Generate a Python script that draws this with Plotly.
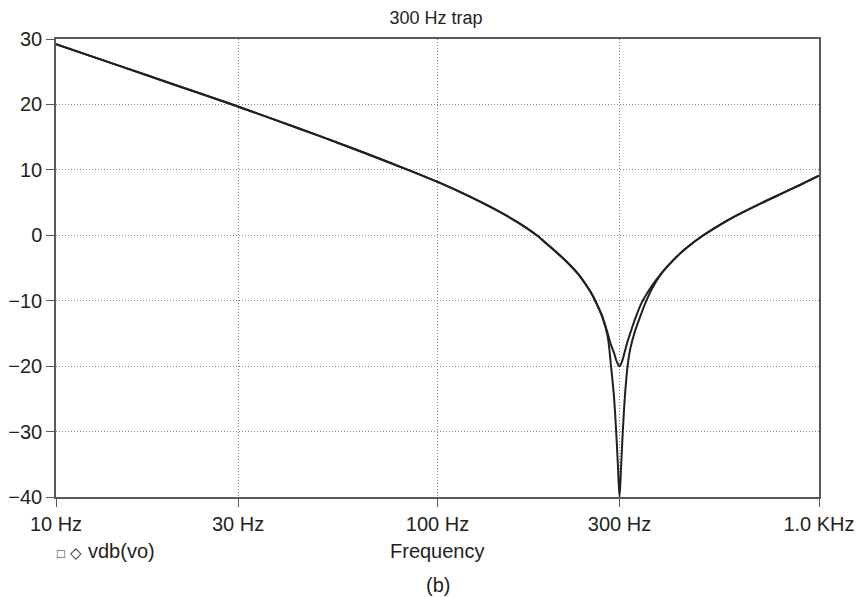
import plotly.graph_objects as go

# Frequency axis ticks
tick_vals = [10, 30, 100, 300, 1000]
tick_text = ["10 Hz", "30 Hz", "100 Hz", "300 Hz", "1.0 KHz"]

# Deep notch trace
freq_deep = [10, 15, 20, 28.6, 37.7, 50, 65, 83.7, 101.5, 121.6, 140, 160, 182,
             195, 209.5, 222, 233.6, 246.5, 255, 262, 270, 279, 285, 290, 294,
             297, 300, 303, 306, 310, 315, 320, 330, 340, 351, 367, 385, 400,
             432, 450, 497.5, 550, 600, 700, 800, 900, 1000]
vdb_deep = [29.2, 25.7, 23.2, 20.1, 17.6, 15.0, 12.5, 10.0, 8.0, 5.9, 4.1, 2.2, 0.0,
            -1.5, -3.1, -4.5, -5.9, -7.8, -9.2, -10.6, -12.4, -15.3, -20.0, -24.5, -30.0,
            -35.0, -40.0, -35.0, -30.0, -24.5, -20.0, -17.4, -14.5, -12.4, -10.3, -7.9, -6.0, -4.8,
            -2.8, -1.9, 0.0, 1.6, 2.85, 4.8, 6.4, 7.8, 9.1]

# Shallow notch trace
freq_shallow = [10, 15, 20, 28.6, 37.7, 50, 65, 83.7, 101.5, 121.6, 140, 160, 182,
                195, 209.5, 222, 233.6, 246.5, 255, 262, 270, 279, 284, 290.7, 295,
                300, 304.5, 309, 315, 322, 330, 343, 355, 367, 385, 400,
                432, 450, 497.5, 550, 600, 700, 800, 900, 1000]
vdb_shallow = [29.2, 25.7, 23.2, 20.1, 17.6, 15.0, 12.5, 10.0, 8.0, 5.9, 4.1, 2.2, 0.0,
               -1.5, -3.1, -4.5, -5.9, -7.8, -9.2, -10.6, -12.3, -14.9, -16.5, -18.1, -19.3,
               -20.0, -19.3, -18.0, -16.2, -14.5, -12.7, -10.3, -8.8, -7.5, -5.9, -4.8,
               -2.8, -1.9, 0.0, 1.6, 2.85, 4.8, 6.4, 7.8, 9.1]

FONT = "Liberation Sans, Arial, sans-serif"
INK = "#231f20"
AXIS = "#5a5a5a"

fig = go.Figure()

# Deep notch
fig.add_trace(go.Scatter(x=freq_deep, y=vdb_deep, mode="lines",
                         line=dict(color=INK, width=2, shape="spline", smoothing=0.9),
                         name="vdb(vo)"))
# Shallow notch
fig.add_trace(go.Scatter(x=freq_shallow, y=vdb_shallow, mode="lines",
                         line=dict(color=INK, width=2, shape="spline", smoothing=0.9),
                         name="vdb(vo)"))

# page has an 8px body margin, so the figure is a bit smaller than the window
fig.update_layout(
    width=856, height=589,
    margin=dict(l=48, r=45, t=31, b=100),
    paper_bgcolor="white", plot_bgcolor="white",
    showlegend=False,
    font=dict(family=FONT, size=20, color=INK),
    title=dict(text="300 Hz trap", x=0.5, xanchor="center",
               y=1, yanchor="top", pad=dict(t=3), font=dict(size=18)),
)

fig.update_xaxes(
    type="log", range=[1, 3], automargin=False,
    tickvals=tick_vals, ticktext=tick_text,
    showline=True, linecolor=AXIS, linewidth=1.5, mirror=True,
    ticks="outside", ticklen=8, tickcolor=AXIS,
    showgrid=True, gridcolor="#888888", griddash="1px,2px", gridwidth=1,
    zeroline=False, tickfont=dict(size=20),
)
fig.update_yaxes(
    range=[-40, 30], tickvals=list(range(-40, 31, 10)), automargin=False,
    showline=True, linecolor=AXIS, linewidth=1.5, mirror=True,
    ticks="outside", ticklen=8, tickcolor=AXIS,
    showgrid=True, gridcolor="#888888", griddash="1px,2px", gridwidth=1,
    zeroline=False, tickfont=dict(size=20),
)

# Bottom texts
fig.add_annotation(text="Frequency", xref="paper", yref="paper", x=0.5, y=-0.118,
                   showarrow=False, font=dict(size=20), yanchor="middle")
fig.add_annotation(text="<span style='font-size:13px'>\u25a1</span> "
                        "<span style='font-size:15px'>\u25c7</span> vdb(vo)",
                   xref="paper", yref="paper", x=-0.001, y=-0.118,
                   showarrow=False, font=dict(size=20), xanchor="left", yanchor="middle")
fig.add_annotation(text="(b)", xref="paper", yref="paper", x=0.5, y=-0.192,
                   showarrow=False, font=dict(size=20), yanchor="middle")

fig.write_html("out.html")
